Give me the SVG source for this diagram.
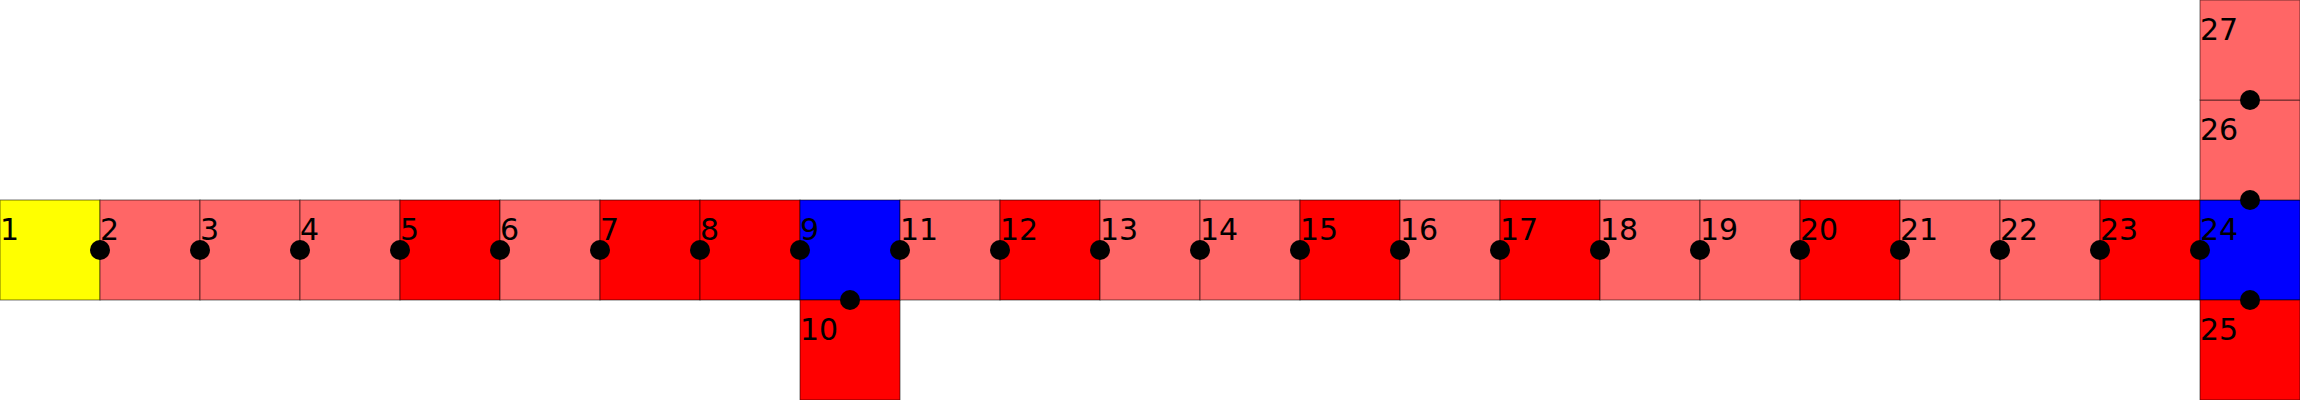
<svg xmlns="http://www.w3.org/2000/svg" width="2300" height="400" viewBox="0 0 2300 400">
<style>
rect{stroke:#000;stroke-opacity:0.55;stroke-width:1}
.y{fill:#ffff00}.l{fill:#ff6666}.r{fill:#ff0000}.b{fill:#0000ff}
text{font-family:"DejaVu Sans",sans-serif;font-size:30px;fill:#000}
circle{fill:#000}
</style>
<rect width="2300" height="400" fill="#fff" style="stroke:none"/>
<g id="n1"><rect class="y" x="0" y="200" width="100" height="100"/><text x="0" y="240">1</text></g>
<g id="n2"><rect class="l" x="100" y="200" width="100" height="100"/><text x="100" y="240">2</text></g>
<g id="n3"><rect class="l" x="200" y="200" width="100" height="100"/><text x="200" y="240">3</text></g>
<g id="n4"><rect class="l" x="300" y="200" width="100" height="100"/><text x="300" y="240">4</text></g>
<g id="n5"><rect class="r" x="400" y="200" width="100" height="100"/><text x="400" y="240">5</text></g>
<g id="n6"><rect class="l" x="500" y="200" width="100" height="100"/><text x="500" y="240">6</text></g>
<g id="n7"><rect class="r" x="600" y="200" width="100" height="100"/><text x="600" y="240">7</text></g>
<g id="n8"><rect class="r" x="700" y="200" width="100" height="100"/><text x="700" y="240">8</text></g>
<g id="n9"><rect class="b" x="800" y="200" width="100" height="100"/><text x="800" y="240">9</text></g>
<g id="n10"><rect class="r" x="800" y="300" width="100" height="100"/><text x="800" y="340">10</text></g>
<g id="n11"><rect class="l" x="900" y="200" width="100" height="100"/><text x="900" y="240">11</text></g>
<g id="n12"><rect class="r" x="1000" y="200" width="100" height="100"/><text x="1000" y="240">12</text></g>
<g id="n13"><rect class="l" x="1100" y="200" width="100" height="100"/><text x="1100" y="240">13</text></g>
<g id="n14"><rect class="l" x="1200" y="200" width="100" height="100"/><text x="1200" y="240">14</text></g>
<g id="n15"><rect class="r" x="1300" y="200" width="100" height="100"/><text x="1300" y="240">15</text></g>
<g id="n16"><rect class="l" x="1400" y="200" width="100" height="100"/><text x="1400" y="240">16</text></g>
<g id="n17"><rect class="r" x="1500" y="200" width="100" height="100"/><text x="1500" y="240">17</text></g>
<g id="n18"><rect class="l" x="1600" y="200" width="100" height="100"/><text x="1600" y="240">18</text></g>
<g id="n19"><rect class="l" x="1700" y="200" width="100" height="100"/><text x="1700" y="240">19</text></g>
<g id="n20"><rect class="r" x="1800" y="200" width="100" height="100"/><text x="1800" y="240">20</text></g>
<g id="n21"><rect class="l" x="1900" y="200" width="100" height="100"/><text x="1900" y="240">21</text></g>
<g id="n22"><rect class="l" x="2000" y="200" width="100" height="100"/><text x="2000" y="240">22</text></g>
<g id="n23"><rect class="r" x="2100" y="200" width="100" height="100"/><text x="2100" y="240">23</text></g>
<g id="n24"><rect class="b" x="2200" y="200" width="100" height="100"/><text x="2200" y="240">24</text></g>
<g id="n25"><rect class="r" x="2200" y="300" width="100" height="100"/><text x="2200" y="340">25</text></g>
<g id="n26"><rect class="l" x="2200" y="100" width="100" height="100"/><text x="2200" y="140">26</text></g>
<g id="n27"><rect class="l" x="2200" y="0" width="100" height="100"/><text x="2200" y="40">27</text></g>
<g id="connectors">
<circle cx="100" cy="250" r="10"/><circle cx="200" cy="250" r="10"/><circle cx="300" cy="250" r="10"/><circle cx="400" cy="250" r="10"/>
<circle cx="500" cy="250" r="10"/><circle cx="600" cy="250" r="10"/><circle cx="700" cy="250" r="10"/><circle cx="800" cy="250" r="10"/>
<circle cx="850" cy="300" r="10"/>
<circle cx="900" cy="250" r="10"/><circle cx="1000" cy="250" r="10"/><circle cx="1100" cy="250" r="10"/><circle cx="1200" cy="250" r="10"/>
<circle cx="1300" cy="250" r="10"/><circle cx="1400" cy="250" r="10"/><circle cx="1500" cy="250" r="10"/><circle cx="1600" cy="250" r="10"/>
<circle cx="1700" cy="250" r="10"/><circle cx="1800" cy="250" r="10"/><circle cx="1900" cy="250" r="10"/><circle cx="2000" cy="250" r="10"/>
<circle cx="2100" cy="250" r="10"/><circle cx="2200" cy="250" r="10"/>
<circle cx="2250" cy="300" r="10"/><circle cx="2250" cy="200" r="10"/><circle cx="2250" cy="100" r="10"/>
</g>
</svg>
